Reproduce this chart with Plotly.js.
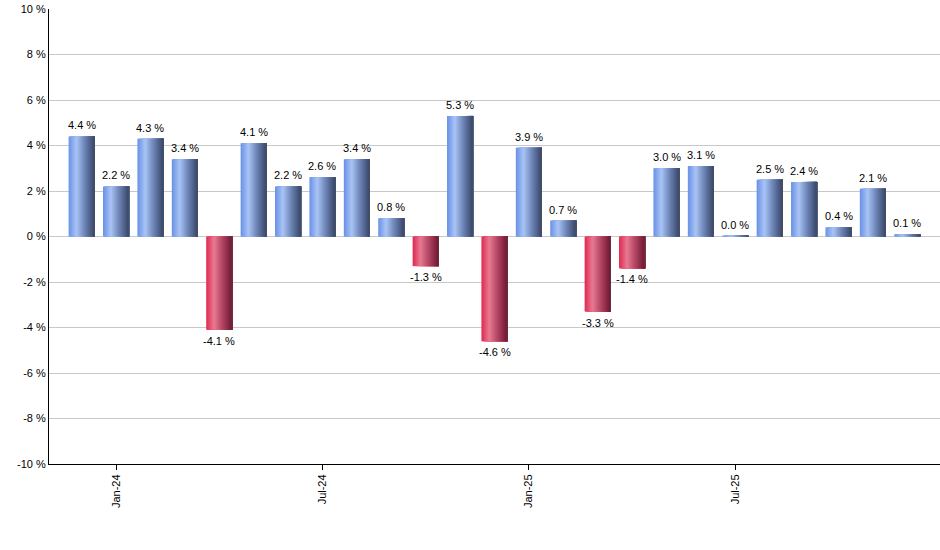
<!DOCTYPE html>
<html>
<head>
<meta charset="utf-8">
<script src="https://cdn.plot.ly/plotly-3.0.1.min.js"></script>
<style>html,body{margin:0;padding:0;background:#fff;}#chart{width:940px;height:550px;}</style>
</head>
<body>
<div id="chart"></div>
<script>
var months = ["Dec-23","Jan-24","Feb-24","Mar-24","Apr-24","May-24","Jun-24","Jul-24","Aug-24","Sep-24","Oct-24","Nov-24","Dec-24","Jan-25","Feb-25","Mar-25","Apr-25","May-25","Jun-25","Jul-25","Aug-25","Sep-25","Oct-25","Nov-25","Dec-25"];
var returns = [4.4, 2.2, 4.3, 3.4, -4.1, 4.1, 2.2, 2.6, 3.4, 0.8, -1.3, 5.3, -4.6, 3.9, 0.7, -3.3, -1.4, 3.0, 3.1, 0.04, 2.5, 2.4, 0.4, 2.1, 0.1];
var tickMonths = ["Jan-24","Jul-24","Jan-25","Jul-25"];
var yTicks = [-10,-8,-6,-4,-2,0,2,4,6,8,10];

var posStops = [[0,[104,145,230]],[0.3,[170,196,245]],[0.6,[112,136,186]],[0.97,[58,72,106]],[1,[90,90,90]]];
var negStops = [[0,[224,40,80]],[0.3,[232,122,146]],[0.6,[182,72,102]],[0.97,[112,24,52]],[1,[90,90,90]]];
function interp(stops,t){
  for(var i=0;i<stops.length-1;i++){
    var a=stops[i],b=stops[i+1];
    if(t>=a[0]&&t<=b[0]){
      var f=(t-a[0])/(b[0]-a[0]);
      var c=a[1].map(function(v,j){return Math.round(v+(b[1][j]-v)*f);});
      return 'rgb('+c.join(',')+')';
    }
  }
  return 'rgb('+stops[stops.length-1][1].join(',')+')';
}
var W = 0.76, N = 26;
var traces = [];
for(var k=0;k<N;k++){
  var t=(k+0.5)/N;
  traces.push({
    type:'bar', x:months, y:returns, width:W-k*W/N, offset:-W/2+k*W/N,
    marker:{color:returns.map(function(v){return interp(v<0?negStops:posStops,t);}), line:{width:0}},
    hoverinfo:'skip', showlegend:false, textposition:'none'
  });
}
var annotations = months.map(function(m,i){
  var v = returns[i];
  return {x:m, y:v, xref:'x', yref:'y', text:v.toFixed(1)+' %', showarrow:false,
    yanchor: v<0 ? 'top' : 'bottom', yshift: v<0 ? -3 : 3,
    font:{family:'Liberation Sans, Arial, sans-serif', size:11, color:'#000'}};
});
var layout = {
  width:940, height:550,
  margin:{l:49, r:0, t:9, b:86},
  paper_bgcolor:'#fff', plot_bgcolor:'#fff',
  barmode:'overlay', showlegend:false,
  font:{family:'Liberation Sans, Arial, sans-serif', size:11, color:'#000'},
  annotations:annotations,
  xaxis:{type:'category', range:[-0.95,24.95], tickmode:'array', tickvals:tickMonths, ticktext:tickMonths,
    tickangle:-90, ticks:'outside', ticklen:5, tickcolor:'#000', showgrid:false,
    showline:true, linecolor:'#000', linewidth:1, zeroline:false, fixedrange:true},
  yaxis:{range:[-10,10], tickmode:'array', tickvals:yTicks, ticktext:yTicks.map(function(v){return v+' %';}),
    showgrid:true, gridcolor:'#c8c8c8', gridwidth:1, zeroline:false,
    showline:true, linecolor:'#000', linewidth:1, ticks:'', ticklabelstandoff:0}
};
Plotly.newPlot('chart', traces, layout, {staticPlot:true});
</script>
</body>
</html>
